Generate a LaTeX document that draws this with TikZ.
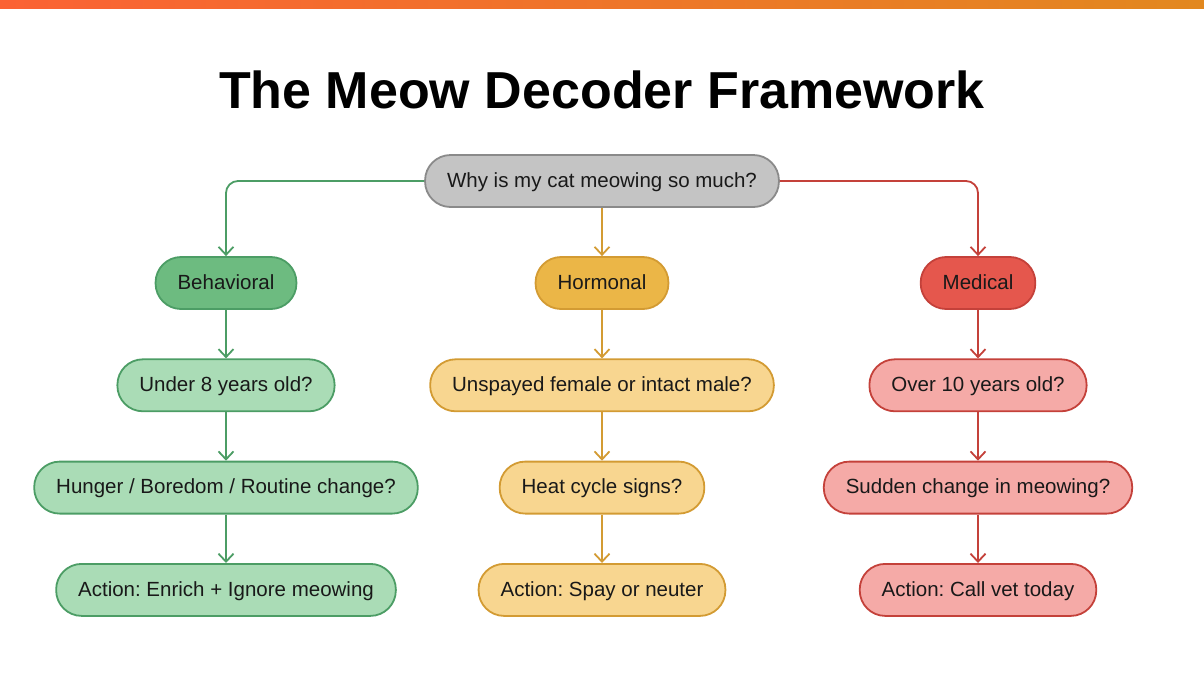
\documentclass[tikz,border=0pt]{standalone}
\usepackage{fontspec}
\setmainfont{Liberation Sans}
\usetikzlibrary{arrows.meta,positioning}
\frenchspacing

\definecolor{grayF}{HTML}{C4C4C4}
\definecolor{grayD}{HTML}{8A8A8A}
\definecolor{grnL}{HTML}{4C9D65}
\definecolor{grnF}{HTML}{6DBB80}
\definecolor{grnP}{HTML}{AADCB6}
\definecolor{ornL}{HTML}{D39B33}
\definecolor{ornF}{HTML}{EBB647}
\definecolor{ornP}{HTML}{F8D690}
\definecolor{redL}{HTML}{C4413A}
\definecolor{redF}{HTML}{E5574D}
\definecolor{redP}{HTML}{F5AAA7}
\definecolor{barL}{HTML}{FB6234}
\definecolor{barR}{HTML}{E2881F}

\begin{document}
\begin{tikzpicture}[x=1pt,y=-1pt,>={Straight Barb[length=8pt,width=15pt]},
  node distance=48.5pt,
  box/.style={draw,rounded corners=25.5pt,line width=1.8pt,minimum height=52pt,
    inner xsep=22pt,text height=14.7pt,text depth=2.5pt,text=black!90,
    font=\fontsize{20.5}{24}\selectfont},
  e/.style={->,line width=1.8pt,rounded corners=12pt},
  gbox/.style={box,draw=grnL,fill=grnP},
  obox/.style={box,draw=ornL,fill=ornP},
  rbox/.style={box,draw=redL,fill=redP}]

\useasboundingbox (0,0) rectangle (1204,672);
\shade[left color=barL,right color=barR] (0,0) rectangle (1204,8);

\node[anchor=base,font=\fontsize{52}{60}\selectfont\bfseries] (title) at (602,108)
  {The Meow Decoder Framework};

\node[box,draw=grayD,fill=grayF] (q) at (602,181) {Why is my cat meowing so much?};

\node[box,draw=grnL,fill=grnF] (b) at (226,283) {Behavioral};
\node[box,draw=ornL,fill=ornF] (h) at (602,283) {Hormonal};
\node[box,draw=redL,fill=redF] (m) at (978,283) {Medical};

\node[gbox,below=of b] (b1) {Under 8 years old?};
\node[gbox,below=of b1] (b2) {Hunger / Boredom / Routine change?};
\node[gbox,below=of b2] (b3) {Action: Enrich + Ignore meowing};

\node[obox,below=of h] (h1) {Unspayed female or intact male?};
\node[obox,below=of h1] (h2) {Heat cycle signs?};
\node[obox,below=of h2] (h3) {Action: Spay or neuter};

\node[rbox,below=of m] (m1) {Over 10 years old?};
\node[rbox,below=of m1] (m2) {Sudden change in meowing?};
\node[rbox,below=of m2] (m3) {Action: Call vet today};

\draw[e,grnL] (q.west) -| (b.north);
\draw[e,ornL] (q.south) -- (h.north);
\draw[e,redL] (q.east) -| (m.north);

\draw[e,grnL] (b) -- (b1);
\draw[e,grnL] (b1) -- (b2);
\draw[e,grnL] (b2) -- (b3);
\draw[e,ornL] (h) -- (h1);
\draw[e,ornL] (h1) -- (h2);
\draw[e,ornL] (h2) -- (h3);
\draw[e,redL] (m) -- (m1);
\draw[e,redL] (m1) -- (m2);
\draw[e,redL] (m2) -- (m3);
\end{tikzpicture}
\end{document}
